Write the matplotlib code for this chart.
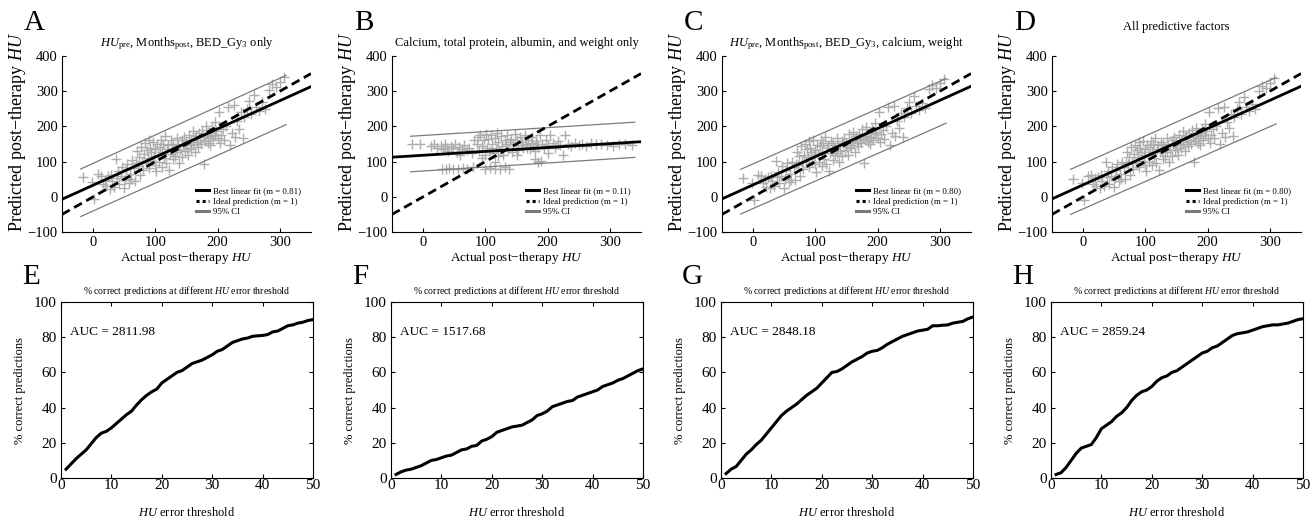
import matplotlib
matplotlib.use("Agg")
import matplotlib.pyplot as plt
from matplotlib.lines import Line2D
import numpy as np

plt.rcParams['font.family'] = ['Liberation Serif', 'DejaVu Serif']
plt.rcParams['mathtext.fontset'] = 'custom'
plt.rcParams['mathtext.rm'] = 'Liberation Serif'
plt.rcParams['mathtext.it'] = 'Liberation Serif:italic'
plt.rcParams['mathtext.bf'] = 'Liberation Serif:bold'

# ---- data ----
# actual post-therapy HU (shared by panels A, C, D)
actual_hu = [
    -17, -2, 2, 8, 12, 16, 19, 21, 24, 27, 29, 31, 34, 36, 38, 40, 42, 45, 47, 49,
    51, 53, 55, 57, 59, 61, 63, 65,
    67, 69, 71, 72, 74, 75, 77, 79, 80, 82, 83, 85, 86, 88, 89, 90, 92, 93, 95, 96,
    97, 99, 100, 101, 103, 104, 106, 107, 109, 110, 111, 113, 114, 116, 117, 119,
    120, 122, 123, 125, 126, 128, 129, 131, 132, 134, 135, 137, 138, 140,
    142, 143, 145, 146, 148, 149, 151, 152, 154, 155, 157, 158, 160, 161, 163, 164,
    166, 167, 169, 170, 172, 173, 175, 176, 178, 179, 181, 182, 184, 185, 187, 188,
    190, 191, 193, 195, 196, 198, 200, 202, 204, 206, 208, 211, 214, 217, 220, 223,
    226, 228, 231, 234, 237, 240, 243, 247, 250, 254, 258, 262, 266, 271, 276, 282,
    288, 293, 300, 306,
]
pred_a = [
    56, 42, -5, 66, 60, 35, 48, 30, 58, 22, 62, 44, 28, 106, 52, 72, 36, 60, 86, 24,
    48, 78, 92, 40, 64, 50, 105, 82,
    46, 96, 130, 88, 112, 62, 142, 100, 76, 122, 152, 96, 132, 110, 162, 82, 140, 126,
    102, 156, 116, 90, 136, 72, 150, 120, 100, 142, 162, 86, 126, 150, 110, 172, 96,
    136, 146, 76, 122, 160, 130, 106, 150, 140, 116, 166, 126, 146, 96, 132,
    160, 112, 150, 170, 130, 156, 140, 120, 176, 146, 160, 136, 186, 150, 166, 126,
    172, 156, 142, 180, 162, 150, 190, 170, 94, 158, 176, 200, 166, 154, 182, 148,
    172, 196, 160, 176, 212, 186, 166, 240, 152, 176, 192, 162, 202, 256, 146, 182,
    262, 170, 216, 192, 240, 168, 226, 250, 272, 236, 288, 256, 244, 268, 250, 302,
    320, 312, 326, 340,
]
pred_c = [
    52, 40, -8, 62, 58, 38, 50, 28, 55, 25, 60, 46, 30, 102, 55, 70, 38, 58, 88, 26,
    50, 75, 95, 42, 66, 48, 100, 85,
    48, 94, 128, 90, 115, 60, 145, 98, 78, 120, 150, 98, 135, 112, 158, 84, 138, 128,
    100, 160, 118, 92, 134, 70, 148, 122, 98, 145, 160, 88, 128, 152, 108, 170, 94,
    138, 148, 74, 124, 158, 132, 104, 152, 138, 118, 168, 124, 148, 98, 130,
    158, 115, 152, 168, 132, 154, 142, 118, 178, 148, 158, 138, 184, 152, 164, 128,
    174, 154, 145, 178, 160, 152, 192, 168, 96, 160, 174, 198, 168, 156, 180, 150,
    170, 194, 162, 178, 210, 184, 168, 242, 155, 178, 190, 165, 200, 254, 148, 180,
    258, 172, 214, 195, 238, 170, 228, 252, 270, 238, 285, 258, 246, 266, 252, 305,
    318, 310, 322, 335,
]
pred_d = [
    50, 38, -10, 60, 62, 36, 52, 30, 56, 24, 62, 44, 32, 100, 56, 72, 36, 60, 85, 28,
    52, 76, 92, 44, 64, 50, 98, 84,
    50, 96, 126, 92, 112, 62, 142, 100, 80, 122, 148, 96, 134, 114, 156, 86, 140, 126,
    102, 158, 120, 90, 136, 72, 146, 120, 100, 142, 158, 90, 126, 150, 110, 168, 96,
    136, 146, 76, 126, 156, 130, 106, 150, 140, 116, 166, 126, 146, 100, 132,
    160, 116, 150, 170, 134, 156, 140, 120, 176, 146, 160, 140, 186, 150, 166, 130,
    172, 156, 144, 180, 162, 150, 190, 170, 98, 158, 176, 196, 166, 154, 182, 148,
    172, 192, 160, 176, 208, 186, 166, 240, 152, 176, 192, 166, 202, 252, 150, 182,
    256, 170, 212, 196, 236, 172, 226, 250, 268, 236, 284, 256, 244, 264, 250, 300,
    316, 308, 324, 338,
]

# panel B has its own point cloud
actual_b = [
    -18, -5, 12, 18, 22, 28, 32, 35, 38, 40, 44, 48, 52, 55, 58, 62, 66, 70, 74, 78,
    82, 86, 88, 90, 92, 95, 97, 99, 101, 103, 105, 107, 109, 111, 113, 115, 117, 119,
    121, 123, 125, 127, 129, 131, 133, 135, 137, 139, 141, 143, 145, 147, 149, 151,
    153, 155, 157, 159, 161, 163, 165, 167, 169, 171, 173, 175, 177, 179, 181, 183,
    185, 188, 191, 194, 197, 200, 204, 208, 212, 216, 220, 224, 228, 232, 238, 244,
    250, 256, 262, 270, 278, 286, 295, 305, 315, 325, 335, 30, 36, 42,
    48, 56, 64, 70, 80, 100, 108, 116, 124, 132, 138, 115, 180, 185, 190, 95, 60, 150,
    120, 200,
]
pred_b = [
    150, 150, 145, 150, 140, 145, 135, 150, 140, 130, 145, 138, 150, 128, 142, 135,
    148, 132, 140, 125, 160, 150, 170, 130, 175, 145, 160, 120, 178, 140, 165, 130,
    175, 150, 125, 168, 140, 180, 155, 130, 172, 145, 120, 160, 150, 175, 135, 155,
    165, 128, 150, 178, 140, 160, 132, 170, 148, 155, 138, 175, 150, 140, 160, 135,
    152, 170, 145, 130, 158, 150, 142, 175, 150, 140, 160, 148, 175, 152, 140, 158,
    148, 120, 175, 150, 145, 152, 148, 150, 145, 152, 150, 150, 148, 145, 150, 150,
    148, 80, 78, 82,
    80, 78, 82, 80, 85, 80, 82, 78, 80, 84, 80, 100, 108, 98, 102, 110, 118, 120,
    115, 125,
]

# best linear fit (slope, intercept) and 95% CI line ends
fit_slope = [0.80, 0.11, 0.80, 0.80]
fit_icpt = [33, 118, 34, 34]
ci_x = [[-20, 310], [-20, 340], [-20, 310], [-20, 310]]
ci_hi = [[79, 345], [172, 212], [78, 336], [78, 339]]
ci_lo = [[-56, 205], [71, 112], [-49, 209], [-50, 207]]
m_text = ['0.81', '0.11', '0.80', '0.80']

titles_top = [
    r'$HU_{\mathrm{pre}}$, Months$_{\mathrm{post}}$, BED_Gy$_3$ only',
    'Calcium, total protein, albumin, and weight only',
    r'$HU_{\mathrm{pre}}$, Months$_{\mathrm{post}}$, BED_Gy$_3$, calcium, weight',
    'All predictive factors',
]

thresholds = list(range(1, 51))
pct_e = [5, 8, 11, 13.5, 16, 19.5, 23, 25.5, 26.5, 28.5, 31, 33.5, 36, 38, 41.5,
         44.5, 47, 49, 50.5, 54, 56, 58, 60, 61, 63, 65, 66, 67, 68.5, 70, 72, 73,
         75, 77, 78, 79, 79.5, 80.5, 80.8, 81, 81.5, 83, 83.5, 85, 86.5, 87, 88,
         88.5, 89.5, 90]
pct_f = [2, 3.5, 4.5, 5, 6, 7, 8.5, 10, 10.5, 11.5, 12.5, 13, 14.5, 16, 16.5, 18,
         18.5, 21, 22, 23.5, 26, 27, 28, 29, 29.5, 30, 31.5, 33, 35.5, 36.5, 38,
         40.5, 41.5, 42.5, 43.5, 44, 46, 47, 48, 49, 50, 52, 53, 54, 55.5, 56.5, 58,
         59.5, 61, 62]
pct_g = [2.5, 5, 6.5, 10, 13.5, 16, 19, 21.5, 25, 28.5, 32, 35.5, 38, 40, 42, 44.5,
         47, 49, 51, 54, 57, 60, 60.5, 62, 64, 66, 67.5, 69, 71, 72, 72.5, 74, 76,
         77.5, 79, 80.5, 81.5, 82.5, 83.5, 84, 84.5, 86.5, 86.5, 86.8, 87, 88, 88.5,
         89, 90.5, 91.5]
pct_h = [2, 3, 6, 10, 14, 17, 18, 19, 23, 28, 30, 32, 35, 37, 40, 44, 47, 49, 50,
         52, 55, 57, 58, 60, 61, 63, 65, 67, 69, 71, 72, 74, 75, 77, 79, 81, 82,
         82.5, 83, 84, 85, 86, 86.5, 87, 87, 87.5, 88, 89, 90, 90.5]
auc = ['2811.98', '1517.68', '2848.18', '2859.24']

W, H = 1316, 524
fig = plt.figure(figsize=(W / 100, H / 100), dpi=100)

lefts = [62, 392, 722, 1052]
top_letters = ['A', 'B', 'C', 'D']
bot_letters = ['E', 'F', 'G', 'H']
pt_color = '#adadad'
ci_color = '#7a7a7a'

xs_top = [actual_hu, actual_b, actual_hu, actual_hu]
ys_top = [pred_a, pred_b, pred_c, pred_d]

for i in range(4):
    ax = fig.add_axes([lefts[i] / W, 1 - 232 / H, 249 / W, 176 / H])
    ax.plot(xs_top[i], ys_top[i], '+', color=pt_color, ms=7.5, mew=1.0, zorder=1)
    ax.plot(ci_x[i], ci_hi[i], color=ci_color, lw=0.9, zorder=2)
    ax.plot(ci_x[i], ci_lo[i], color=ci_color, lw=0.9, zorder=2)
    xl = np.array([-50, 350])
    ax.plot(xl, fit_slope[i] * xl + fit_icpt[i], color='k', lw=2.0, zorder=3)
    ax.plot(xl, xl, color='k', lw=2.0, ls=(0, (3.2, 1.8)), zorder=3)
    ax.set_xlim(-50, 350)
    ax.set_ylim(-100, 400)
    ax.set_xticks([0, 100, 200, 300])
    ax.set_yticks([-100, 0, 100, 200, 300, 400])
    ax.spines['top'].set_visible(False)
    ax.spines['right'].set_visible(False)
    ax.tick_params(direction='in', length=3, labelsize=10.5, pad=3)
    ax.set_xlabel('Actual post\u2212therapy $HU$', fontsize=9.5, labelpad=0.5)
    ax.set_ylabel('Predicted post\u2212therapy $HU$', fontsize=13, labelpad=0,
                  y=0.57)
    ax.set_title(titles_top[i], fontsize=9, pad=(19 if i == 3 else 7))
    handles = [Line2D([], [], color='k', lw=2.2),
               Line2D([], [], color='k', lw=2.2, ls=(0, (1, 1))),
               Line2D([], [], color=ci_color, lw=2.2)]
    labels = ['Best linear fit (m = %s)' % m_text[i],
              'Ideal prediction (m = 1)', '95% CI']
    ax.legend(handles, labels, loc='lower left', bbox_to_anchor=(0.54, 0.09),
              frameon=False, fontsize=6.3, handlelength=1.4, handletextpad=0.5,
              labelspacing=0.25, borderpad=0, borderaxespad=0)
    fig.text((lefts[i] - 38) / W, 1 - 30 / H, top_letters[i], fontsize=21,
             va='baseline', ha='left')

curves = [pct_e, pct_f, pct_g, pct_h]
for i in range(4):
    ax = fig.add_axes([(lefts[i] - 1) / W, 1 - 478 / H, 252 / W, 176 / H])
    ax.plot(thresholds, curves[i], color='k', lw=2.2)
    ax.set_xlim(0, 50)
    ax.set_ylim(0, 100)
    ax.set_xticks([0, 10, 20, 30, 40, 50])
    ax.set_yticks([0, 20, 40, 60, 80, 100])
    ax.tick_params(direction='in', length=3, labelsize=11, top=True, right=True)
    ax.tick_params(axis='x', pad=1)
    ax.tick_params(axis='y', pad=3)
    ax.set_xlabel('$HU$ error threshold', fontsize=9, labelpad=10)
    ax.set_ylabel('% correct predictions', fontsize=9, labelpad=6)
    ax.set_title('% correct predictions at different $HU$ error threshold',
                 fontsize=7, pad=6)
    ax.text(1.8, 83, 'AUC = ' + auc[i], fontsize=9.5, va='center', ha='left')
    fig.text((lefts[i] - 40) / W, 1 - 284 / H, bot_letters[i], fontsize=21,
             va='baseline', ha='left')

fig.savefig('out.png', dpi=100)
